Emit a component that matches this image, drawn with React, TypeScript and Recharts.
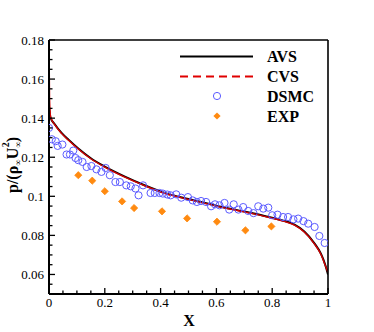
import { ComposedChart, Line, Scatter, XAxis, YAxis } from 'recharts'

// AVS curve (black solid)
const avsX = [0, 0.005, 0.02, 0.045, 0.07, 0.105, 0.15, 0.2, 0.27, 0.34, 0.42, 0.5, 0.6, 0.7, 0.78, 0.84, 0.88, 0.915, 0.95, 0.975, 0.99, 1]
const avsP = [0.146, 0.1405, 0.137, 0.1325, 0.129, 0.1245, 0.1195, 0.1152, 0.1102, 0.1058, 0.1015, 0.0986, 0.0952, 0.0922, 0.0897, 0.0875, 0.0855, 0.082, 0.0762, 0.0705, 0.065, 0.06]

// CVS curve (red dashed)
const cvsX = [0, 0.002, 0.006, 0.02, 0.045, 0.07, 0.105, 0.15, 0.2, 0.27, 0.34, 0.42, 0.5, 0.6, 0.7, 0.78, 0.84, 0.88, 0.915, 0.95, 0.975, 0.99, 1]
const cvsP = [0.18, 0.15, 0.1405, 0.1368, 0.1322, 0.1287, 0.1242, 0.1192, 0.1149, 0.1099, 0.1056, 0.1013, 0.0984, 0.095, 0.092, 0.0895, 0.0873, 0.0852, 0.0817, 0.0759, 0.0702, 0.0647, 0.061]

// DSMC (blue open circles)
const dsmcX = [0.0, 0.01, 0.024, 0.031, 0.048, 0.063, 0.075, 0.087, 0.095, 0.105, 0.12, 0.135, 0.152, 0.17, 0.188, 0.203, 0.218, 0.238, 0.254, 0.277, 0.293, 0.31, 0.321, 0.337, 0.364, 0.379, 0.396, 0.408, 0.424, 0.436, 0.456, 0.474, 0.498, 0.515, 0.53, 0.545, 0.563, 0.581, 0.595, 0.611, 0.629, 0.646, 0.662, 0.679, 0.696, 0.714, 0.733, 0.75, 0.768, 0.786, 0.8, 0.819, 0.839, 0.857, 0.876, 0.893, 0.912, 0.929, 0.952, 0.969, 0.988]
const dsmcP = [0.135, 0.1292, 0.1282, 0.1258, 0.1265, 0.1214, 0.1214, 0.1234, 0.1196, 0.1185, 0.1176, 0.115, 0.1155, 0.1138, 0.1125, 0.1145, 0.1108, 0.1073, 0.1073, 0.1056, 0.1051, 0.104, 0.1005, 0.1056, 0.1017, 0.1017, 0.1017, 0.1014, 0.1009, 0.1005, 0.101, 0.0993, 0.0996, 0.0979, 0.0971, 0.0976, 0.0971, 0.0949, 0.0959, 0.0954, 0.0966, 0.0932, 0.0959, 0.0932, 0.0945, 0.0925, 0.0914, 0.0949, 0.0937, 0.0942, 0.0903, 0.0906, 0.0894, 0.0894, 0.0882, 0.0886, 0.0873, 0.086, 0.0843, 0.0797, 0.0761]

// EXP (orange diamonds)
const expX = [0.105, 0.155, 0.2, 0.262, 0.305, 0.405, 0.495, 0.602, 0.704, 0.797]
const expP = [0.1108, 0.108, 0.1026, 0.0974, 0.094, 0.0923, 0.0887, 0.087, 0.0826, 0.0846]

const xTicks = [0, 0.05, 0.1, 0.15, 0.2, 0.25, 0.3, 0.35, 0.4, 0.45, 0.5, 0.55, 0.6, 0.65, 0.7, 0.75, 0.8, 0.85, 0.9, 0.95, 1]
const xLabels = [0, 0.2, 0.4, 0.6, 0.8, 1]
const yTicks = [0.05, 0.055, 0.06, 0.065, 0.07, 0.075, 0.08, 0.085, 0.09, 0.095, 0.1, 0.105, 0.11, 0.115, 0.12, 0.125, 0.13, 0.135, 0.14, 0.145, 0.15, 0.155, 0.16, 0.165, 0.17, 0.175, 0.18]
const yLabels = [0.06, 0.08, 0.1, 0.12, 0.14, 0.16, 0.18]

const seriesNames = ['AVS', 'CVS', 'DSMC', 'EXP']

const toPoints = (xs: number[], ps: number[]) => xs.map((x, i) => ({ x, p: ps[i] }))

const FONT = '"Liberation Serif", "Times New Roman", serif'
const BLUE = '#5b5bff'
const ORANGE = '#ff8a10'

const isLabel = (v: number, list: number[]) => list.some((l) => Math.abs(l - v) < 1e-9)

const YTick = (props: any) => {
  const { x, y, payload } = props
  const major = isLabel(payload.value, yLabels)
  return (
    <g>
      <line x1={x} x2={x + (major ? 6 : 3.5)} y1={y} y2={y} stroke="#000" strokeWidth={1.3} />
      {major && (
        <text x={x - 5} y={y} dy="0.35em" textAnchor="end" fontFamily={FONT} fontSize={13} fill="#000">
          {String(payload.value)}
        </text>
      )}
    </g>
  )
}

const XTick = (props: any) => {
  const { x, y, payload } = props
  const major = isLabel(payload.value, xLabels)
  return (
    <g>
      <line x1={x} x2={x} y1={y} y2={y - (major ? 6 : 3.5)} stroke="#000" strokeWidth={1.3} />
      {major && (
        <text x={x} y={y + 13} textAnchor="middle" fontFamily={FONT} fontSize={13} fill="#000">
          {String(payload.value)}
        </text>
      )}
    </g>
  )
}

const Circle = (props: any) => (
  <circle cx={props.cx} cy={props.cy} r={3.6} fill="none" stroke={BLUE} strokeWidth={1} />
)

const Diamond = (props: any) => {
  const { cx, cy } = props
  const r = 3.6
  return (
    <polygon
      points={`${cx},${cy - r} ${cx + r},${cy} ${cx},${cy + r} ${cx - r},${cy}`}
      fill={ORANGE}
      stroke={ORANGE}
      strokeWidth={0.8}
    />
  )
}

const Overlay = () => (
  <svg width={374} height={332} style={{ position: 'absolute', left: 0, top: 0, pointerEvents: 'none' }}>
    {/* legend */}
    <line x1={180} x2={253} y1={56.5} y2={56.5} stroke="#000" strokeWidth={2} />
    <line x1={180} x2={253} y1={76.5} y2={76.5} stroke="#e00000" strokeWidth={2} strokeDasharray="8 5" />
    <circle cx={217} cy={96} r={3.6} fill="none" stroke={BLUE} strokeWidth={1} />
    <polygon points="217,112.4 220.6,116 217,119.6 213.4,116" fill={ORANGE} />
    {seriesNames.map((name, i) => (
      <text key={name} x={267} y={62 + i * 20} fontFamily={FONT} fontSize={16} fontWeight="bold" fill="#000">
        {name}
      </text>
    ))}
    {/* axis titles */}
    <text x={189} y={326} textAnchor="middle" fontFamily={FONT} fontSize={16} fontWeight="bold" fill="#000">
      X
    </text>
    <text
      transform="translate(18,165) rotate(-90)"
      textAnchor="middle"
      fontFamily={FONT}
      fontSize={16}
      fontWeight="bold"
      fill="#000"
    >
      p/(ρ<tspan fontSize={9} dy={3}>∞</tspan>
      <tspan dy={-3}>U</tspan>
      <tspan fontSize={9} dy={3}>∞</tspan>
      <tspan fontSize={10} dx={-6} dy={-12}>2</tspan>
      <tspan dy={9}>)</tspan>
    </text>
  </svg>
)

export default function App() {
  return (
    <div style={{ position: 'absolute', left: 0, top: 0, width: 374, height: 332, background: '#fff' }}>
      <ComposedChart width={374} height={332} margin={{ top: 39, right: 45, bottom: 37, left: 48 }}>
        <XAxis
          xAxisId={0}
          type="number"
          dataKey="x"
          domain={[0, 1]}
          ticks={xTicks}
          interval={0}
          height={1}
          tickSize={0}
          tickMargin={0}
          tick={<XTick />}
          axisLine={{ stroke: '#000', strokeWidth: 2 }}
          allowDataOverflow
        />
        <XAxis xAxisId="top" orientation="top" type="number" domain={[0, 1]} height={1} tick={false} tickLine={false} axisLine={{ stroke: '#000', strokeWidth: 1.6 }} />
        <YAxis
          yAxisId={0}
          type="number"
          domain={[0.05, 0.18]}
          ticks={yTicks}
          interval={0}
          width={1}
          tickSize={0}
          tickMargin={0}
          tick={<YTick />}
          axisLine={{ stroke: '#000', strokeWidth: 2 }}
          allowDataOverflow
        />
        <YAxis yAxisId="right" orientation="right" type="number" domain={[0.05, 0.18]} width={1} tick={false} tickLine={false} axisLine={{ stroke: '#000', strokeWidth: 1.6 }} />
        <Line
          data={toPoints(avsX, avsP)}
          dataKey="p"
          type="monotone"
          stroke="#000"
          strokeWidth={2}
          dot={false}
          isAnimationActive={false}
        />
        <Line
          data={toPoints(cvsX, cvsP)}
          dataKey="p"
          type="monotone"
          stroke="#d40000"
          strokeWidth={1.4}
          dot={false}
          isAnimationActive={false}
        />
        <Scatter data={toPoints(dsmcX, dsmcP)} dataKey="p" shape={<Circle />} isAnimationActive={false} />
        <Scatter data={toPoints(expX, expP)} dataKey="p" shape={<Diamond />} isAnimationActive={false} />
      </ComposedChart>
      <Overlay />
    </div>
  )
}
